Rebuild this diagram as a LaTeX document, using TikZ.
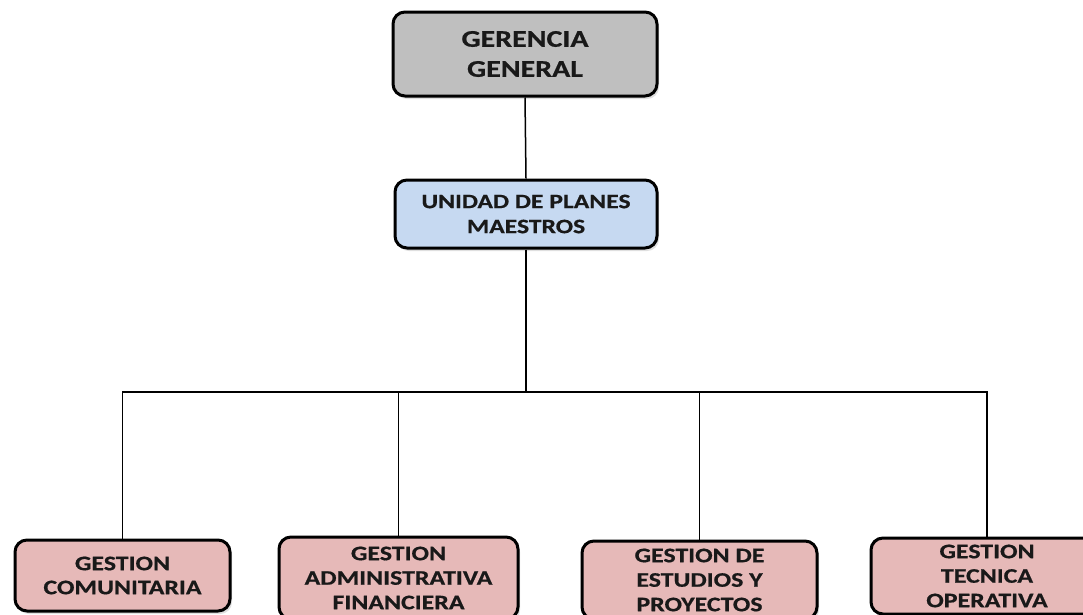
\documentclass[tikz,border=0pt]{standalone}
\usepackage{fontspec}
\newfontfamily\boxfont{Carlito}[FakeStretch=1.25, BoldFeatures={FakeBold=0.6}]
\usetikzlibrary{shadows}
\definecolor{gg}{HTML}{BFBFBF}
\definecolor{bl}{HTML}{C6D9F1}
\definecolor{pk}{HTML}{E6B9B8}
\tikzset{
  orgbox/.style={draw=black, line width=3pt, rounded corners=12pt, inner sep=0pt,
    align=center, text=black!90,
    drop shadow={opacity=0.25, shadow xshift=2pt, shadow yshift=-3pt}},
  wire/.style={draw=black, line width=1.5pt}
}
\begin{document}
\begin{tikzpicture}[x=1pt,y=-1pt]
\useasboundingbox (0,0) rectangle (1083,614);
\clip (0,0) rectangle (1083,614);
\fill[white] (0,0) rectangle (1083,614);
\node[orgbox, fill=gg, minimum width=264pt, minimum height=84pt,
  font=\boxfont\bfseries\fontsize{24}{30}\selectfont] (gg) at (525,54) {GERENCIA\\GENERAL};
\node[orgbox, fill=bl, minimum width=262pt, minimum height=68pt,
  font=\boxfont\bfseries\fontsize{20.5}{25}\selectfont] (up) at (526,214) {UNIDAD DE PLANES\\MAESTROS};
\node[orgbox, fill=pk, minimum width=215pt, minimum height=71pt,
  font=\boxfont\bfseries\fontsize{20.7}{24}\selectfont] (c1) at (122.5,575.5) {GESTION\\COMUNITARIA};
\node[orgbox, fill=pk, minimum width=239pt, minimum height=82pt,
  font=\boxfont\bfseries\fontsize{20.7}{24.5}\selectfont] (c2) at (398.5,578) {GESTION\\ADMINISTRATIVA\\FINANCIERA};
\node[orgbox, fill=pk, minimum width=235pt, minimum height=78pt,
  font=\boxfont\bfseries\fontsize{20.7}{24.5}\selectfont] (c3) at (699.5,580) {GESTION DE\\ESTUDIOS Y\\PROYECTOS};
\node[orgbox, fill=pk, minimum width=232pt, minimum height=76pt,
  font=\boxfont\bfseries\fontsize{20.7}{24.5}\selectfont] (c4) at (987,576) {GESTION\\TECNICA\\OPERATIVA};
\coordinate (j) at (526,392);
\draw[wire] (gg.south) -- (up.north);
\draw[wire] (up.south) -- (j);
\draw[wire] (c1.north) -- (c1.north |- j) -- (j);
\draw[wire] (c2.north) -- (c2.north |- j);
\draw[wire] (j) -- (c4.north |- j) -- (c4.north);
\draw[wire] (c3.north) -- (c3.north |- j);
\end{tikzpicture}
\end{document}
